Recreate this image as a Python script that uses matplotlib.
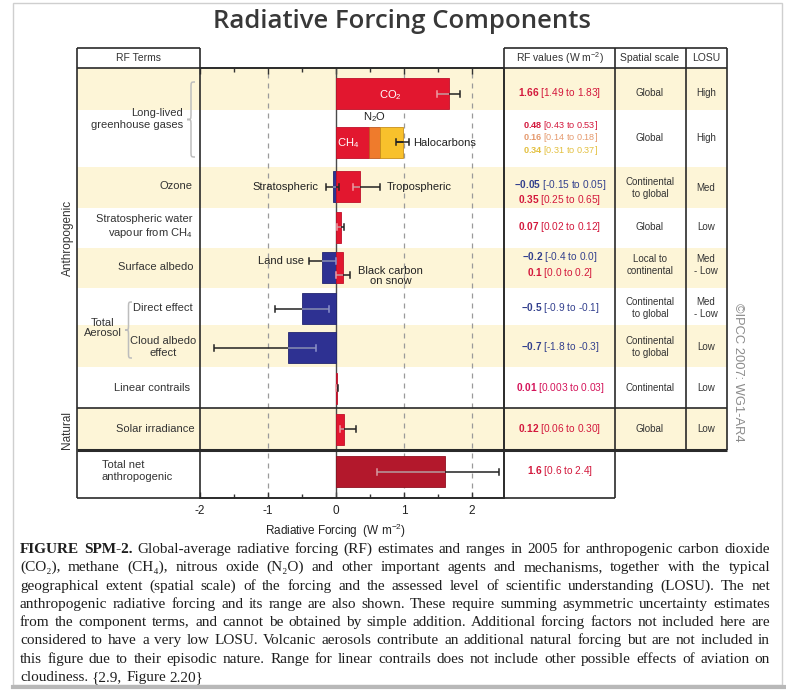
import matplotlib
matplotlib.use("Agg")
import matplotlib.pyplot as plt
from matplotlib.patches import Rectangle, PathPatch
from matplotlib.path import Path
import numpy as np

plt.rcParams['font.family'] = ['Liberation Sans', 'DejaVu Sans']
plt.rcParams['mathtext.fontset'] = 'custom'
plt.rcParams['mathtext.rm'] = 'Liberation Sans'
plt.rcParams['mathtext.it'] = 'Liberation Sans:italic'
plt.rcParams['mathtext.bf'] = 'Liberation Sans:bold'

# ---------------- data ----------------
title = "Radiative Forcing Components"
seg_names = ["CO$_2$", "CH$_4$", "N$_2$O", "Halocarbons", "Stratospheric", "Tropospheric",
             "Stratospheric water vapour", "Land use", "Black carbon\non snow",
             "Direct effect", "Cloud albedo effect", "Linear contrails",
             "Solar irradiance", "Total net anthropogenic"]
seg_values = [1.66, 0.48, 0.16, 0.34, -0.05, 0.35, 0.07, -0.2, 0.1, -0.5, -0.7, 0.01, 0.12, 1.6]
seg_low = [1.49, 0.43, 0.14, 0.31, -0.15, 0.25, 0.02, -0.4, 0.0, -0.9, -1.8, 0.003, 0.06, 0.6]
seg_high = [1.83, 0.53, 0.18, 0.37, 0.05, 0.65, 0.12, 0.0, 0.2, -0.1, -0.3, 0.03, 0.30, 2.4]
seg_row = [0, 1, 1, 1, 2, 2, 3, 4, 4, 5, 6, 7, 8, 9]
rf_value_text = ["1.66", "0.48", "0.16", "0.34", "-0.05", "0.35", "0.07", "-0.2", "0.1",
                 "-0.5", "-0.7", "0.01", "0.12", "1.6"]
rf_range_text = ["[1.49 to 1.83]", "[0.43 to 0.53]", "[0.14 to 0.18]", "[0.31 to 0.37]",
                 "[-0.15 to 0.05]", "[0.25 to 0.65]", "[0.02 to 0.12]", "[-0.4 to 0.0]",
                 "[0.0 to 0.2]", "[-0.9 to -0.1]", "[-1.8 to -0.3]", "[0.003 to 0.03]",
                 "[0.06 to 0.30]", "[0.6 to 2.4]"]
spatial_scale = ["Global", "Global", "Continental\nto global", "Global", "Local to\ncontinental",
                 "Continental\nto global", "Continental\nto global", "Continental", "Global"]
losu = ["High", "High", "Med", "Low", "Med\n- Low", "Med\n- Low", "Low", "Low", "Low"]
term_labels = ["Long-lived\ngreenhouse gases", "Ozone", "Stratospheric water\nvapour from CH$_4$",
               "Surface albedo", "Direct effect", "Cloud albedo\neffect", "Linear contrails",
               "Solar irradiance", "Total net\nanthropogenic"]
x_ticks = [-2, -1, 0, 1, 2]
x_label = "Radiative Forcing  (W m$^{-2}$)"
caption_lines = [
    "FIGURE SPM-2. Global-average radiative forcing (RF) estimates and ranges in 2005 for anthropogenic carbon dioxide",
    "(CO\u2082), methane (CH\u2084), nitrous oxide (N\u2082O) and other important agents and mechanisms, together with the typical",
    "geographical extent (spatial scale) of the forcing and the assessed level of scientific understanding (LOSU). The net",
    "anthropogenic radiative forcing and its range are also shown. These require summing asymmetric uncertainty estimates",
    "from the component terms, and cannot be obtained by simple addition. Additional forcing factors not included here are",
    "considered to have a very low LOSU. Volcanic aerosols contribute an additional natural forcing but are not included in",
    "this figure due to their episodic nature. Range for linear contrails does not include other possible effects of aviation on",
    "cloudiness.  {2.9, Figure 2.20}",
]

# ---------------- style / layout ----------------
W, H = 786, 694
RED, DRED, BLUE, ORANGE, YELLOW = '#e2172f', '#b3182c', '#2e3192', '#ef7b2c', '#f8c12c'
BEIGE = '#fdf5d7'
seg_colors = [RED, RED, ORANGE, YELLOW, BLUE, RED, RED, BLUE, RED, BLUE, BLUE, RED, RED, DRED]
edge_colors = {RED: '#c0102a', ORANGE: '#c05a20', YELLOW: '#c8901a', BLUE: '#232670', DRED: '#901020'}
inner_colors = {RED: '#f29aa3', BLUE: '#8c92cc', DRED: '#d99aa2', ORANGE: '#222222', YELLOW: '#222222'}
txt_red, txt_blue = '#d3183c', '#33408e'
rf_text_colors = [txt_red, txt_red, '#e59a6e', '#e3c040', txt_blue, txt_red, txt_red, txt_blue,
                  txt_red, txt_blue, txt_blue, '#d4145a', txt_red, txt_red]
rf_text_y = [93, 125, 137.5, 150, 185, 200, 227, 257, 273, 308, 347, 388, 429, 471]
row_edges = [68, 110, 167, 208, 248, 288, 325, 367, 408, 450, 498]
bar_center = [93.5, 142, 186.5, 227, 267.5, 308.5, 347.5, 388, 429, 471.5]
err_dy = [0, 0, 0, 0, 0, 0, 0, -7, 7, 0, 0, 0, 0, 0]
BAR_H = 31
row_text_y = [93, 138, 188, 227, 265, 308, 347, 388, 429]
LINE = '#2a2a2a'

fig = plt.figure(figsize=(W / 100, H / 100), dpi=100)
fig.patch.set_facecolor('white')
bg = fig.add_axes([0, 0, 1, 1], label='bg')
bg.set_xlim(0, W); bg.set_ylim(H, 0); bg.axis('off'); bg.set_zorder(0)
ax = fig.add_axes([200 / W, 1 - 498 / H, 304 / W, 430 / H], label='data')
ax.set_zorder(1); ax.patch.set_alpha(0)
ov = fig.add_axes([0, 0, 1, 1], label='ov')
ov.set_xlim(0, W); ov.set_ylim(H, 0); ov.axis('off'); ov.set_zorder(2); ov.patch.set_alpha(0)

# frame around whole image
bg.add_patch(Rectangle((13, 3), 769, 682, fill=False, edgecolor='#cfcfcf', lw=1))
bg.plot([13, 786], [687, 687], color='#b8b8b8', lw=3)

# row shading
for i in range(0, 9, 2):
    bg.add_patch(Rectangle((77, row_edges[i]), 727 - 77, row_edges[i + 1] - row_edges[i],
                           facecolor=BEIGE, edgecolor='none'))

# ---------------- bars ----------------
ax.set_xlim(-2, 2.47)
ax.set_ylim(498, 68)
pos_cum = {}
neg_cum = {}
bar_extent = []
for i, v in enumerate(seg_values):
    r = seg_row[i]
    if v >= 0:
        left = pos_cum.get(r, 0.0); pos_cum[r] = left + v
    else:
        left = neg_cum.get(r, 0.0); neg_cum[r] = left + v
    c = seg_colors[i]
    ax.barh(bar_center[r], v, left=left, height=BAR_H, color=c,
            edgecolor=edge_colors[c], linewidth=0.6, zorder=3)
    bar_extent.append((min(left, left + v), max(left, left + v)))


def errbar(y, lo, hi, b0, b1, inner):
    dark = '#222222'
    ax.plot([lo, hi], [y, y], color=dark, lw=1.1, zorder=4, solid_capstyle='butt')
    s0, s1 = max(lo, b0), min(hi, b1)
    if s1 > s0:
        ax.plot([s0, s1], [y, y], color=inner, lw=1.1, zorder=5, solid_capstyle='butt')
    for xv in (lo, hi):
        c = inner if b0 <= xv <= b1 else dark
        ax.plot([xv, xv], [y - 3, y + 3], color=c, lw=1.1, zorder=5)


# long-lived GHG row: one combined range for the stacked bar
stack_idx = [i for i in range(len(seg_values)) if seg_row[i] == 1]
for i in range(len(seg_values)):
    if seg_row[i] == 1:
        continue
    b0, b1 = bar_extent[i]
    errbar(bar_center[seg_row[i]] + err_dy[i], seg_low[i], seg_high[i], b0, b1,
           inner_colors[seg_colors[i]])
errbar(bar_center[1], sum(seg_low[i] for i in stack_idx), sum(seg_high[i] for i in stack_idx),
       0, pos_cum[1], '#222222')

# grid and zero line
for xv in [-1, 1, 2]:
    ax.axvline(xv, color='#9a9a9a', lw=0.9, ls=(0, (4, 4)), zorder=1)
ax.axvline(0, color='#4a4a4a', lw=1.0, zorder=2)

ax.set_xticks(x_ticks)
ax.set_xticks(np.arange(-2, 2.5, 0.5), minor=True)
ax.set_yticks([])
ax.tick_params(axis='x', which='both', direction='in', top=True, bottom=True,
               colors='#333333', labelsize=8.5, pad=5)
ax.tick_params(axis='x', which='major', length=4, width=1)
ax.tick_params(axis='x', which='minor', length=3, width=1)
ax.set_xticklabels([str(t) for t in x_ticks], color='#222222')
for s in ax.spines.values():
    s.set_color(LINE); s.set_linewidth(1.2)
ax.set_xlabel(x_label, fontsize=8.5, color='#222222', labelpad=2)
ax.xaxis.set_label_coords((0 - (-2)) / 4.47, -0.055)

# bar annotations
tk = dict(fontsize=8, zorder=6)
ax.text(0.8, 95, seg_names[0], color='white', ha='center', va='center', **tk)
ax.text(0.18, 143, seg_names[1], color='white', ha='center', va='center', **tk)
ax.text(0.56, 117, seg_names[2], color='#222222', ha='center', va='center', **tk)
ax.text(1.13, 143, seg_names[3], color='#222222', ha='left', va='center', **tk)
ax.text(-0.26, 187, seg_names[4], color='#222222', ha='right', va='center', **tk)
ax.text(0.74, 187, seg_names[5], color='#222222', ha='left', va='center', **tk)
ax.text(-0.47, 261, seg_names[7], color='#222222', ha='right', va='center', **tk)
ax.text(0.8, 276, seg_names[8], color='#222222', ha='center', va='center', linespacing=0.95, **tk)

# ---------------- table lines ----------------
def hline(y, x0, x1, lw=1.2):
    ov.plot([x0, x1], [y, y], color=LINE, lw=lw, solid_capstyle='butt')


def vline(x, y0, y1, lw=1.2):
    ov.plot([x, x], [y0, y1], color=LINE, lw=lw, solid_capstyle='butt')


hline(48, 77, 200); hline(48, 504, 727)
hline(68, 77, 727)
hline(408, 77, 727)
hline(450, 77, 727, lw=2.2)
hline(498, 77, 615)
vline(77, 48, 498); vline(200, 48, 68)
vline(504, 48, 498); vline(615, 48, 498)
vline(686, 48, 450); vline(727, 48, 450)

# headers
hk = dict(fontsize=7.5, color='#333333', ha='center', va='center')
ov.text(138, 58, "RF Terms", **hk)
ov.text(560, 58, "RF values (W m$^{-2}$)", **hk)
ov.text(650, 58, "Spatial scale", **hk)
ov.text(706, 58, "LOSU", **hk)

# RF term labels
lk = dict(fontsize=8, color='#333333', va='center')
ov.text(183, 119, term_labels[0], ha='right', linespacing=1.15, **lk)
ov.text(193, 186, term_labels[1], ha='right', **lk)
ov.text(193, 227, term_labels[2], ha='right', linespacing=1.15, **lk)
ov.text(193, 267, term_labels[3], ha='right', **lk)
ov.text(193, 308, term_labels[4], ha='right', **lk)
ov.text(163, 347, term_labels[5], ha='center', multialignment='center', linespacing=1.15, **lk)
ov.text(190, 388, term_labels[6], ha='right', **lk)
ov.text(195, 429, term_labels[7], ha='right', **lk)
ov.text(102, 471, term_labels[8], ha='left', linespacing=1.3, **lk)
ov.text(103, 328, "Total\nAerosol", ha='center', multialignment='center', linespacing=1.0, **lk)
ov.text(68, 238, "Anthropogenic", rotation=90, ha='center', fontsize=8.5, color='#333333', va='center')
ov.text(67, 430, "Natural", rotation=90, ha='center', fontsize=8.5, color='#333333', va='center')


def brace(xtip, xarm, y0, y1, color='#bdbdbd'):
    xm = (xtip + xarm) / 2
    ym = (y0 + y1) / 2
    r = min(6, (y1 - y0) / 4)
    verts = [(xarm, y0), (xm, y0), (xm, y0), (xm, y0 + r),
             (xm, ym - r), (xm, ym), (xm, ym), (xtip, ym),
             (xm, ym), (xm, ym), (xm, ym + r),
             (xm, y1 - r), (xm, y1), (xm, y1), (xarm, y1)]
    codes = [Path.MOVETO, Path.CURVE4, Path.CURVE4, Path.CURVE4,
             Path.LINETO, Path.CURVE4, Path.CURVE4, Path.CURVE4,
             Path.CURVE4, Path.CURVE4, Path.CURVE4,
             Path.LINETO, Path.CURVE4, Path.CURVE4, Path.CURVE4]
    ov.add_patch(PathPatch(Path(verts, codes), facecolor='none', edgecolor=color, lw=1.1))


brace(187, 195, 82, 157)
brace(125, 132, 302, 358)

# RF values column
for i in range(len(seg_values)):
    fs = 6.6 if seg_row[i] == 1 else 7.3
    ov.text(560, rf_text_y[i], r"$\mathbf{%s}$ %s" % (rf_value_text[i], rf_range_text[i]),
            fontsize=fs, color=rf_text_colors[i], ha='center', va='center')

# spatial scale / LOSU
for r in range(9):
    ov.text(650, row_text_y[r], spatial_scale[r], fontsize=7, color='#333333', ha='center',
            va='center', multialignment='center', linespacing=1.3)
    ov.text(706, row_text_y[r], losu[r], fontsize=7, color='#333333', ha='center',
            va='center', multialignment='center', linespacing=1.3)

ov.text(738, 372, "\u00a9IPCC 2007: WG1-AR4", rotation=270, fontsize=9.3, color='#8a8a8a',
        ha='center', va='center')

# ---------------- title ----------------
renderer = fig.canvas.get_renderer()
t = ov.text(402, 21, title, fontsize=20, family=['Open Sans', 'DejaVu Sans'], fontweight='semibold',
            color='#383838', ha='center', va='center')
tw = t.get_window_extent(renderer).width
t.set_fontsize(20 * 377 / tw)

# ---------------- caption (justified, word by word) ----------------
cap_font = ['Liberation Serif', 'DejaVu Serif']


def wwidth(s, size, weight='normal'):
    tt = ov.text(0, 0, s, fontsize=size, family=cap_font, fontweight=weight)
    w = tt.get_window_extent(renderer).width
    tt.remove()
    return w


def line_segments(k):
    words = caption_lines[k].split()
    weights = ['normal'] * len(words)
    if k == 0:
        weights[0] = weights[1] = 'bold'
    segs = []
    for w, wt in zip(words, weights):
        if segs and segs[-1][0] == wt:
            segs[-1][1].append(w)
        else:
            segs.append((wt, [w]))
    return segs


def natural_rights(k, size):
    sp = wwidth("a a", size) - wwidth("aa", size)
    out = []
    offset = 0.0
    for wt, ws in line_segments(k):
        for j in range(len(ws)):
            out.append((offset + wwidth(" ".join(ws[:j + 1]), size, wt), ws[j], wt))
        offset = out[-1][0] + sp
    return out


XL, XR = 20, 770
base = 10.0
maxw = max(natural_rights(k, base)[-1][0] for k in range(len(caption_lines) - 1))
cap_size = base * (XR - XL) / maxw * 0.985
for k in range(len(caption_lines)):
    y = float(round(553 + 18.3 * k))
    rights = natural_rights(k, cap_size)
    n = len(rights)
    extra = (XR - XL - rights[-1][0]) / (n - 1) if k < len(caption_lines) - 1 else 0.0
    for i, (rx, w, wt) in enumerate(rights):
        ov.text(XL + rx + i * extra, y, w, fontsize=cap_size, family=cap_font, fontweight=wt,
                color='#1e1e1e', ha='right', va='baseline')

fig.savefig("out.png", dpi=100, facecolor='white')
